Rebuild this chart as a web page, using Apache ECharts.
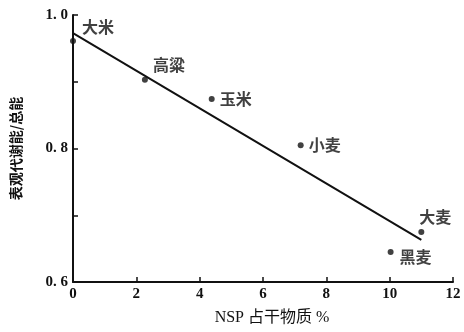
<!DOCTYPE html>
<html>
<head>
<meta charset="utf-8">
<script src="https://cdn.jsdelivr.net/npm/echarts@6/dist/echarts.min.js"></script>
<style>html,body{margin:0;padding:0;background:#fff}#c{width:464px;height:332px}</style>
</head>
<body>
<div id="c"></div>
<script>
// Data
const grainNames = ['大米', '高粱', '玉米', '小麦', '大麦', '黑麦'];
const nspValues = [0, 2.27, 4.38, 7.19, 11.0, 10.03];
const energyRatio = [0.961, 0.903, 0.874, 0.805, 0.675, 0.645];
const fitLineX = [0, 11];
const fitLineY = [0.973, 0.663];
const yTickLabels = { '0.6': '0. 6', '0.8': '0. 8', '1': '1. 0' };
const xTickLabels = ['0', '2', '4', '6', '8', '10', '12'];

// Label layout (style only)
const labelOffsets = {
  '大米': [25, -14], '高粱': [24, -15], '玉米': [24, 0],
  '小麦': [24, 0], '大麦': [14, -15], '黑麦': [25, 5]
};

const chart = echarts.init(document.getElementById('c'));
const scatterData = grainNames.map((n, i) => ({
  name: n,
  value: [nspValues[i], energyRatio[i]],
  label: { offset: labelOffsets[n] }
}));
const serif = '"Liberation Serif", "DejaVu Serif", serif';
chart.setOption({
  animation: false,
  grid: { left: 73, right: 11, top: 15, bottom: 50 },
  xAxis: {
    type: 'value', min: 0, max: 12, interval: 2,
    name: 'NSP 占干物质 %', nameLocation: 'middle', nameGap: 28,
    nameTextStyle: { fontFamily: '"Liberation Serif", "Noto Sans CJK SC", serif', fontSize: 16, color: '#111', padding: [0, 0, 0, 18] },
    axisLine: { lineStyle: { color: '#111', width: 2 } },
    axisTick: { inside: true, length: 5, lineStyle: { color: '#111', width: 1.5 } },
    axisLabel: { color: '#111', fontFamily: serif, fontWeight: 'bold', fontSize: 15, margin: 5,
      formatter: (v) => xTickLabels[Math.round(v / 2)] },
    splitLine: { show: false }
  },
  yAxis: {
    type: 'value', min: 0.6, max: 1.0, interval: 0.1,
    name: '表观代谢能/总能', nameLocation: 'middle', nameGap: 50, nameRotate: 90,
    nameTextStyle: { fontFamily: '"Noto Sans CJK SC", sans-serif', fontWeight: 'bold', fontSize: 14, color: '#111' },
    axisLine: { lineStyle: { color: '#111', width: 2 } },
    axisTick: { inside: true, length: 5, lineStyle: { color: '#111', width: 1.5 } },
    axisLabel: { color: '#111', fontFamily: serif, fontWeight: 'bold', fontSize: 15, margin: 5,
      formatter: (v) => { const k = String(Math.round(v * 10) / 10); return yTickLabels[k] || ''; } },
    splitLine: { show: false }
  },
  series: [
    {
      type: 'line', data: fitLineX.map((x, i) => [x, fitLineY[i]]),
      symbol: 'none', lineStyle: { color: '#111', width: 2 }, z: 2
    },
    {
      type: 'scatter', data: scatterData, symbolSize: 6,
      itemStyle: { color: '#111' },
      label: { show: true, position: 'inside', formatter: '{b}', color: '#111',
        fontFamily: '"Noto Sans CJK SC", sans-serif', fontWeight: 'bold', fontSize: 16 },
      z: 3
    }
  ]
});
</script>
</body>
</html>
